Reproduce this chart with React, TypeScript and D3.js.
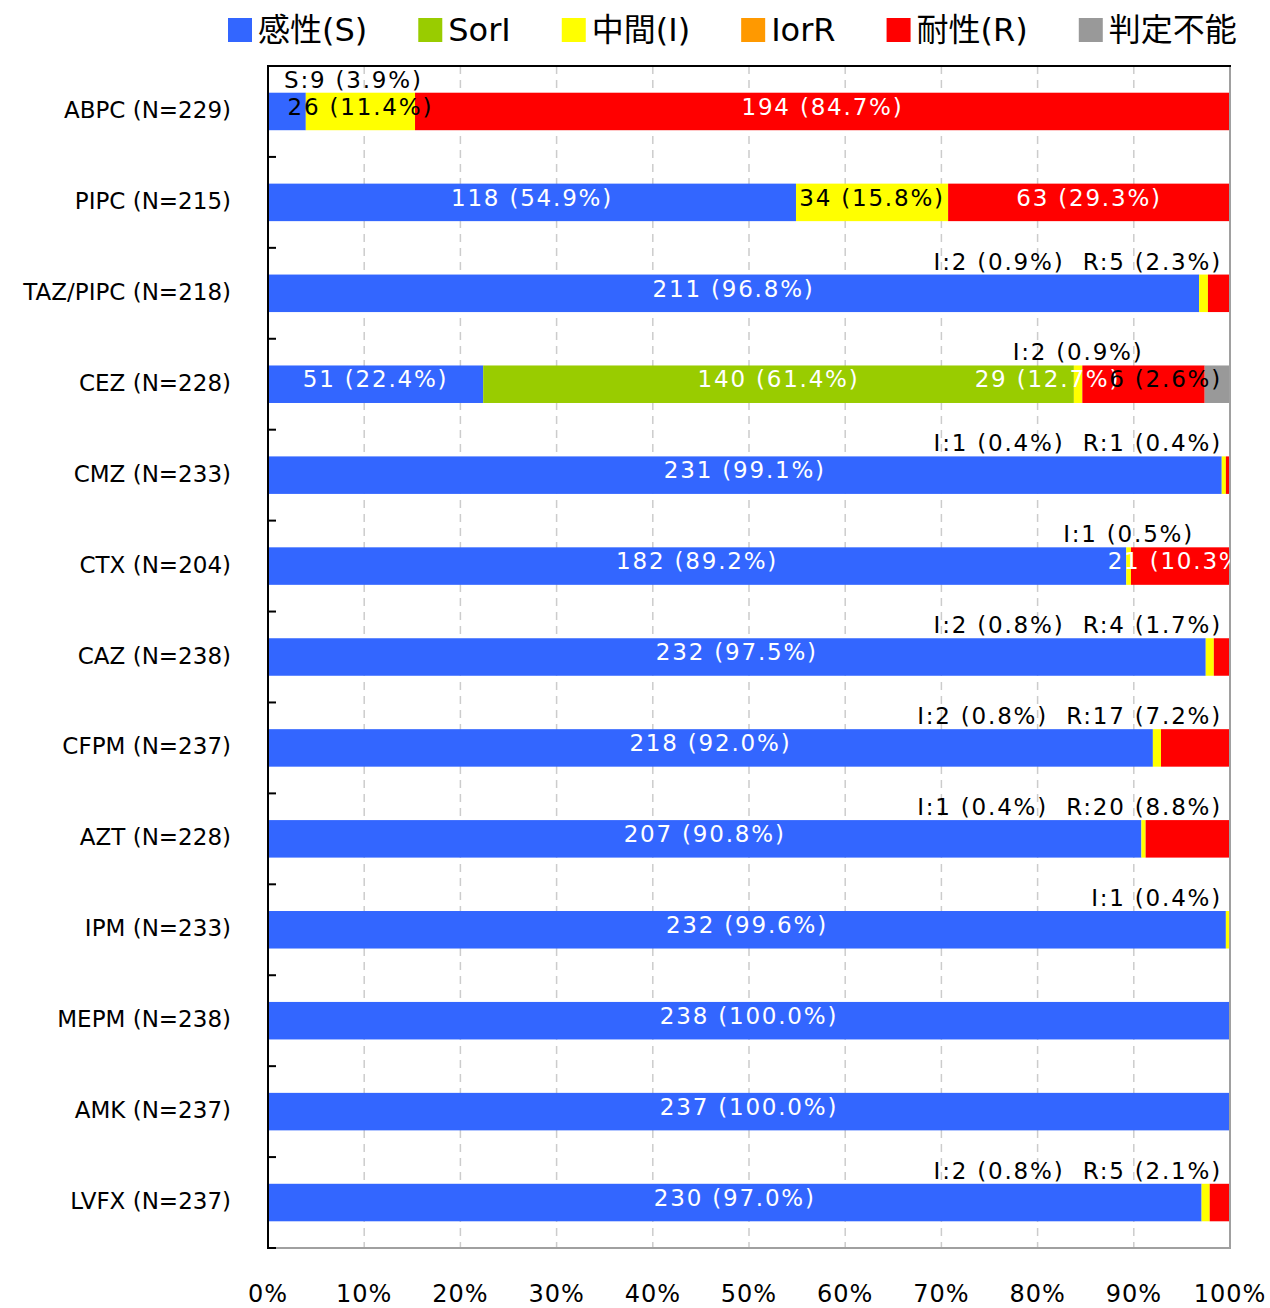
import React, { useMemo } from 'react';
import * as d3 from 'd3';

const categories = [
  'ABPC (N=229)', 'PIPC (N=215)', 'TAZ/PIPC (N=218)', 'CEZ (N=228)', 'CMZ (N=233)',
  'CTX (N=204)', 'CAZ (N=238)', 'CFPM (N=237)', 'AZT (N=228)', 'IPM (N=233)',
  'MEPM (N=238)', 'AMK (N=237)', 'LVFX (N=237)',
];
const sCount = [9, 118, 211, 51, 231, 182, 232, 218, 207, 232, 238, 237, 230];
const sorICount = [0, 0, 0, 140, 0, 0, 0, 0, 0, 0, 0, 0, 0];
const iCount = [26, 34, 2, 2, 1, 1, 2, 2, 1, 1, 0, 0, 2];
const iorRCount = [0, 0, 0, 0, 0, 0, 0, 0, 0, 0, 0, 0, 0];
const rCount = [194, 63, 5, 29, 1, 21, 4, 17, 20, 0, 0, 0, 5];
const naCount = [0, 0, 0, 6, 0, 0, 0, 0, 0, 0, 0, 0, 0];

const seriesNames = ['感性(S)', 'SorI', '中間(I)', 'IorR', '耐性(R)', '判定不能'];
const seriesShort = ['S', 'SorI', 'I', 'IorR', 'R', 'NA'];
const seriesColors = ['#3366ff', '#99cc00', '#ffff00', '#ff9900', '#ff0000', '#999999'];
const labelColors = ['#ffffff', '#ffffff', '#000000', '#000000', '#ffffff', '#000000'];
const xTicks = [0, 10, 20, 30, 40, 50, 60, 70, 80, 90, 100];

const FONT = "'DejaVu Sans', 'Noto Sans CJK JP', sans-serif";
const W = 1270;
const H = 1308;
const plot = { left: 268, right: 1230, top: 66, bottom: 1248 };
const VAL_SIZE = 23;
const VAL_LS = 1.8;

let ctx: CanvasRenderingContext2D | null = null;
function textWidth(s: string, size: number, ls = 0) {
  if (!ctx) ctx = document.createElement('canvas').getContext('2d');
  if (!ctx) return s.length * size * 0.6;
  ctx.font = `${size}px ${FONT}`;
  return ctx.measureText(s).width + ls * s.length;
}

export default function App() {
  const counts = [sCount, sorICount, iCount, iorRCount, rCount, naCount];

  const x = d3.scaleLinear().domain([0, 100]).range([plot.left, plot.right]);
  const y = d3.scaleBand<string>().domain(categories).range([plot.top, plot.bottom])
    .paddingInner(0.5875).paddingOuter(0.29375);
  const step = y.step();

  const rows = useMemo(() => categories.map((cat, ri) => {
    const n = counts.reduce((a, c) => a + c[ri], 0);
    let acc = 0;
    const segs = counts.map((c, si) => {
      const pct = (c[ri] / n) * 100;
      const seg = { si, count: c[ri], pct, x0: x(acc), x1: x(acc + pct) };
      acc += pct;
      return seg;
    }).filter(s => s.count > 0);

    const inside = segs.filter(s => s.pct >= 10 || seriesShort[s.si] === 'NA').map(s => {
      const text = `${s.count} (${s.pct.toFixed(1)}%)`;
      const w = textWidth(text, VAL_SIZE, VAL_LS);
      return { ...s, text, w, cx: (s.x0 + s.x1) / 2 };
    });
    // the undetermined label is pinned to the plot edge, its neighbour pushed left
    for (let k = inside.length - 1; k >= 0; k--) {
      const l = inside[k];
      if (seriesShort[l.si] === 'NA') {
        l.cx = plot.right - 8 - l.w / 2;
        const prev = inside[k - 1];
        if (prev && prev.cx + prev.w / 2 > l.cx - l.w / 2 + 11) prev.cx = l.cx - l.w / 2 + 11 - prev.w / 2;
      }
    }

    const small = segs.filter(s => !(s.pct >= 10 || seriesShort[s.si] === 'NA'));
    let above = null as null | { text: string; cx: number };
    if (small.length) {
      const text = small.map(s => `${seriesShort[s.si]}:${s.count} (${s.pct.toFixed(1)}%)`).join('  ');
      const w = textWidth(text, VAL_SIZE, VAL_LS);
      let cx = d3.mean(small, s => (s.x0 + s.x1) / 2) as number;
      cx = Math.max(cx, plot.left + 16 + w / 2);
      cx = Math.min(cx, plot.right - 8 - w / 2);
      above = { text, cx };
    }
    return { cat, segs, inside, above };
  }), []);

  // legend layout
  let lx = 228;
  const legend = seriesNames.map((name, i) => {
    const item = { name, i, x: lx };
    lx += 30 + textWidth(name, 32) + 51;
    return item;
  });

  return (
    <div style={{ position: 'absolute', left: 0, top: 0 }}>
      <svg width={W} height={H} viewBox={`0 0 ${W} ${H}`} style={{ display: 'block', fontFamily: FONT }}>
        <defs>
          <clipPath id="plotClip">
            <rect x={plot.left} y={0} width={plot.right - plot.left} height={H} />
          </clipPath>
        </defs>
        <rect width={W} height={H} fill="#fff" />

        {/* legend */}
        {legend.map(l => (
          <g key={l.name}>
            <rect x={l.x} y={18} width={24} height={24} fill={seriesColors[l.i]} />
            <text x={l.x + 30} y={41} fontSize={32} fill="#000">{l.name}</text>
          </g>
        ))}

        {/* grid */}
        {xTicks.filter(t => t > 0 && t < 100).map(t => (
          <line key={t} x1={x(t)} x2={x(t)} y1={plot.top} y2={plot.bottom}
            stroke="#cccccc" strokeWidth={1.5} strokeDasharray="8 6" />
        ))}

        {/* bars */}
        {rows.map(r => (
          <g key={r.cat}>
            {r.segs.map(s => (
              <rect key={s.si} x={s.x0} y={y(r.cat)} width={s.x1 - s.x0} height={y.bandwidth()}
                fill={seriesColors[s.si]} />
            ))}
          </g>
        ))}

        {/* frame */}
        <line x1={plot.right} x2={plot.right} y1={plot.top} y2={plot.bottom} stroke="#a0a0a0" strokeWidth={2} />
        <line x1={plot.left} x2={plot.right + 1} y1={plot.bottom} y2={plot.bottom} stroke="#a0a0a0" strokeWidth={2} />
        <line x1={plot.left} x2={plot.right + 1} y1={plot.top} y2={plot.top} stroke="#000" strokeWidth={2} />
        <line x1={plot.left} x2={plot.left} y1={plot.top - 1} y2={plot.bottom + 1} stroke="#000" strokeWidth={2} />
        {d3.range(1, categories.length + 1).map(i => (
          <line key={i} x1={plot.left} x2={plot.left + 8} y1={plot.top + i * step} y2={plot.top + i * step}
            stroke="#000" strokeWidth={2} />
        ))}

        {/* value labels */}
        <g clipPath="url(#plotClip)">
          {rows.map(r => r.inside.map(l => (
            <text key={r.cat + l.si} x={l.cx} y={(y(r.cat) as number) + 22} textAnchor="middle"
              fontSize={VAL_SIZE} letterSpacing={VAL_LS} fill={labelColors[l.si]}>{l.text}</text>
          )))}
        </g>
        {rows.map(r => r.above && (
          <text key={r.cat + 'a'} x={r.above.cx} y={(y(r.cat) as number) - 5} textAnchor="middle"
            fontSize={VAL_SIZE} letterSpacing={VAL_LS} fill="#000" style={{ whiteSpace: 'pre' }}>{r.above.text}</text>
        ))}

        {/* category labels */}
        {categories.map(c => (
          <text key={c} x={plot.left - 37} y={(y(c) as number) + y.bandwidth() / 2 + 6.5}
            textAnchor="end" fontSize={23} fill="#000">{c}</text>
        ))}

        {/* x tick labels */}
        {xTicks.map(t => (
          <text key={t} x={x(t)} y={1302} textAnchor="middle" fontSize={24} letterSpacing={1} fill="#000">{`${t}%`}</text>
        ))}
      </svg>
    </div>
  );
}
